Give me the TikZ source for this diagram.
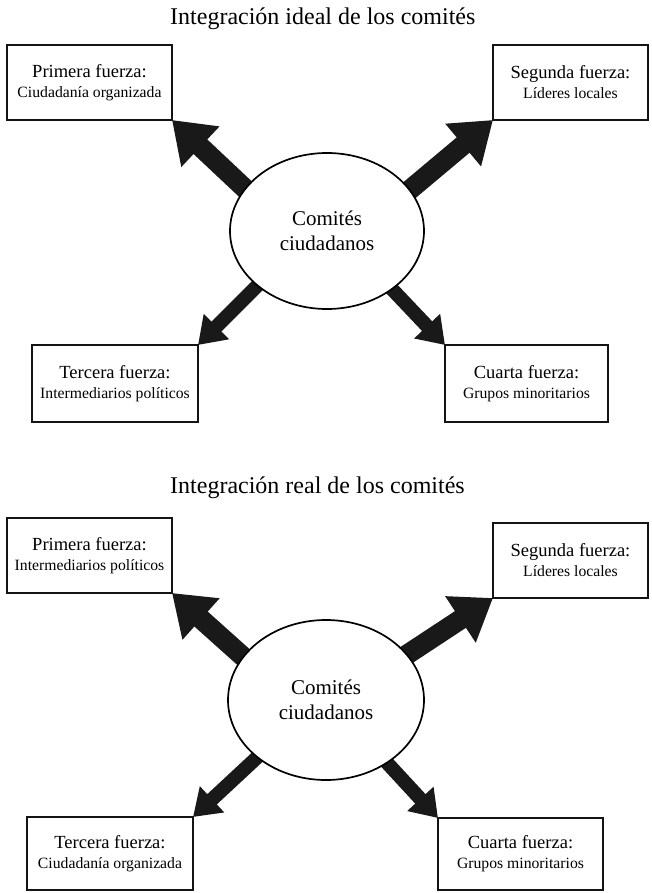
\documentclass[tikz,border=0pt]{standalone}
\usepackage{fontspec}
\setmainfont{Liberation Serif}
\usetikzlibrary{arrows.meta,backgrounds,shapes.geometric}
\newcommand\boxfontb{\fontsize{15.7}{20}\selectfont}
\tikzset{
  fbox/.style={draw=black!92, line width=2.2pt, fill=white, anchor=north west, align=center,
    inner sep=0pt, outer sep=0pt, font=\fontsize{18.5}{20}\selectfont},
  hub/.style={draw=black, ellipse, line width=1.7pt, fill=white, align=center, inner sep=0pt,
    outer sep=0pt, font=\fontsize{21}{24.5}\selectfont},
  bigarrow/.style={line width=20pt, black!90, -{Triangle[length=39pt,width=53pt]}},
  smallarrow/.style={line width=14pt, black!90, -{Triangle[length=26pt,width=34pt]}},
  ttl/.style={anchor=base west, inner sep=0pt, font=\fontsize{24}{28}\selectfont},
}
\begin{document}
\begin{tikzpicture}[x=1pt,y=-1pt]
\useasboundingbox (0,0) rectangle (651,893);
% ---------- upper diagram ----------
\node[ttl] (t1) at (170,25) {Integración ideal de los comités};
\node[fbox, minimum width=165pt, minimum height=75pt] (b1) at (7,45)
  {Primera fuerza:\\{\boxfontb Ciudadanía organizada}};
\node[fbox, minimum width=155pt, minimum height=75pt] (b2) at (493,45)
  {Segunda fuerza:\\{\boxfontb Líderes locales}};
\node[fbox, minimum width=166pt, minimum height=77pt] (b3) at (32,345)
  {Tercera fuerza:\\{\boxfontb Intermediarios políticos}};
\node[fbox, minimum width=163pt, minimum height=77pt] (b4) at (445,345)
  {Cuarta fuerza:\\{\boxfontb Grupos minoritarios}};
\node[hub, minimum width=194pt, minimum height=156pt] (e1) at (327,231)
  {Comités\\ciudadanos};
\coordinate (p1) at (273,215);
\coordinate (p2) at (381,214);
\coordinate (p3) at (278,265);
\coordinate (p4) at (371,267);
% ---------- lower diagram ----------
\node[ttl] (t2) at (170,493) {Integración real de los comités};
\node[fbox, minimum width=165pt, minimum height=75pt] (c1) at (7,518)
  {Primera fuerza:\\{\boxfontb Intermediarios políticos}};
\node[fbox, minimum width=155pt, minimum height=75pt] (c2) at (493,523)
  {Segunda fuerza:\\{\boxfontb Líderes locales}};
\node[fbox, minimum width=166pt, minimum height=73pt] (c3) at (27,817)
  {Tercera fuerza:\\{\boxfontb Ciudadanía organizada}};
\node[fbox, minimum width=165pt, minimum height=72pt] (c4) at (438,818)
  {Cuarta fuerza:\\{\boxfontb Grupos minoritarios}};
\node[hub, minimum width=196pt, minimum height=160pt] (e2) at (326,700)
  {Comités\\ciudadanos};
\coordinate (q1) at (268,679);
\coordinate (q2) at (367,681);
\coordinate (q3) at (279,737);
\coordinate (q4) at (366,740);
% ---------- arrows (behind the ellipses) ----------
\begin{scope}[on background layer]
  \draw[bigarrow] (p1) -- (b1.south east);
  \draw[bigarrow] (p2) -- (b2.south west);
  \draw[smallarrow] (p3) -- (b3.north east);
  \draw[smallarrow] (p4) -- (b4.north west);
  \draw[bigarrow] (q1) -- (c1.south east);
  \draw[bigarrow] (q2) -- (c2.south west);
  \draw[smallarrow] (q3) -- (c3.north east);
  \draw[smallarrow] (q4) -- (c4.north west);
\end{scope}
\end{tikzpicture}
\end{document}
